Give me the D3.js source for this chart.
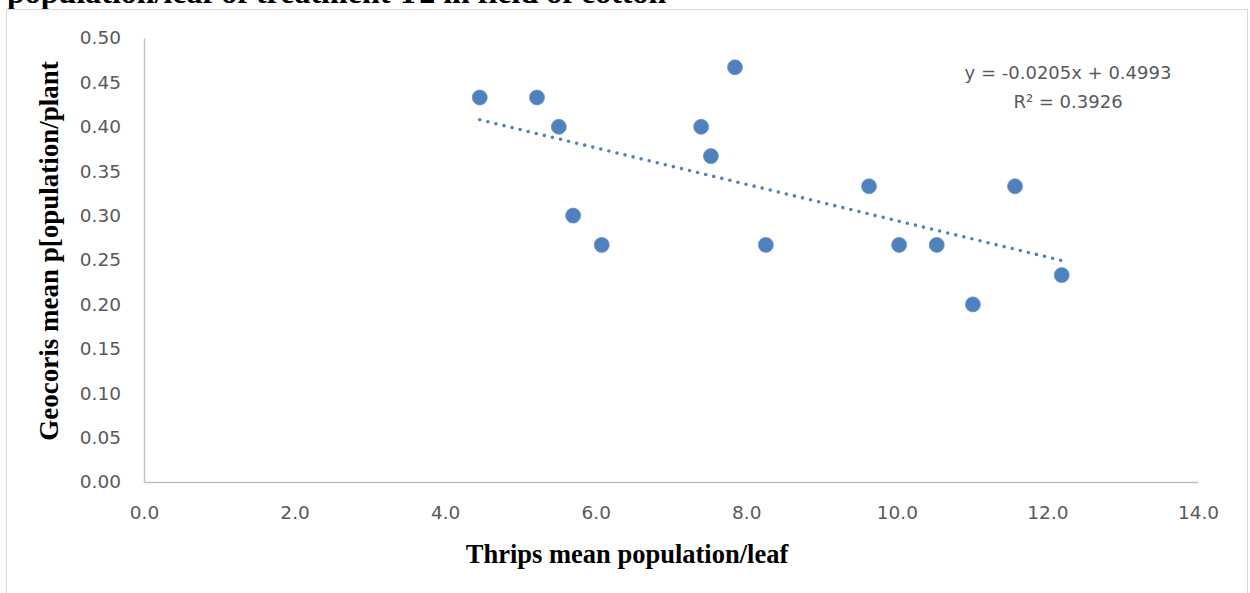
<!DOCTYPE html>
<html>
<head>
<meta charset="utf-8">
<title>Thrips vs Geocoris</title>
<script src="https://cdn.jsdelivr.net/npm/d3@7"></script>
<style type="text/css">
body {
	margin: 0;
	background: #fff;
}
.tick text {
	font-family: "DejaVu Sans", sans-serif;
	font-size: 18.5px;
	fill: #595959;
}
.axis-title {
	font-family: "Liberation Serif", "Times New Roman", serif;
	font-weight: bold;
	fill: #000;
}
</style>
</head>
<body>
<div id="chart"></div>

<script type="text/javascript">
	// Thrips mean population/leaf (x) and Geocoris mean population/plant (y)
	var thrips = [4.46, 5.22, 5.51, 5.70, 6.08, 7.40, 7.53, 7.85, 8.26, 9.63, 10.03, 10.53, 11.01, 11.57, 12.19];
	var geocoris = [0.433, 0.433, 0.400, 0.300, 0.267, 0.400, 0.367, 0.467, 0.267, 0.333, 0.267, 0.267, 0.200, 0.333, 0.233];

	// linear trendline as printed on the chart
	var slope = -0.0205, intercept = 0.4993, rSquared = 0.3926;

	var xTicks = [0, 2, 4, 6, 8, 10, 12, 14];
	var yTicks = [0, 0.05, 0.10, 0.15, 0.20, 0.25, 0.30, 0.35, 0.40, 0.45, 0.50];

	var width = 1250, height = 593;
	var margin = { left: 144, right: 52, top: 38, bottom: 111 };

	var svg = d3.select('#chart').append('svg')
		.attr('width', width)
		.attr('height', height);

	// title is clipped at the top of the picture, as in the source
	svg.append('text')
		.attr('class', 'axis-title')
		.attr('x', 7)
		.attr('y', 3)
		.attr('font-size', 32)
		.text('population/leaf of treatment T2 in field of cotton');

	// chart frame
	svg.append('rect')
		.attr('x', 6.5).attr('y', 9.5)
		.attr('width', 1241).attr('height', 600)
		.attr('fill', 'none')
		.attr('stroke', '#d9d9d9');

	var x = d3.scaleLinear().domain([0, 14]).range([margin.left, width - margin.right]);
	var y = d3.scaleLinear().domain([0, 0.5]).range([height - margin.bottom, margin.top]);

	var xAxis = svg.append('g')
		.attr('transform', 'translate(0,' + y(0) + ')')
		.call(d3.axisBottom(x).tickValues(xTicks).tickFormat(d3.format('.1f'))
			.tickSize(0).tickPadding(24));

	var yAxis = svg.append('g')
		.attr('transform', 'translate(' + x(0) + ',0)')
		.call(d3.axisLeft(y).tickValues(yTicks).tickFormat(d3.format('.2f'))
			.tickSize(0).tickPadding(23));

	[xAxis, yAxis].forEach(function(a) {
		a.select('.domain').attr('stroke', '#bfbfbf').attr('stroke-width', 1.5);
	});

	// trendline over the range of the data
	var xExt = d3.extent(thrips);
	svg.append('line')
		.attr('x1', x(xExt[0])).attr('y1', y(slope * xExt[0] + intercept))
		.attr('x2', x(xExt[1])).attr('y2', y(slope * xExt[1] + intercept))
		.attr('stroke', '#4f81bd')
		.attr('stroke-width', 3.6)
		.attr('stroke-linecap', 'round')
		.attr('stroke-dasharray', '0 8.3');

	// points
	svg.append('g').selectAll('circle')
		.data(thrips)
		.enter().append('circle')
		.attr('cx', function(d) { return x(d); })
		.attr('cy', function(d, i) { return y(geocoris[i]); })
		.attr('r', 7.5)
		.attr('fill', '#4f81bd')
		.attr('stroke', '#6b94c8')
		.attr('stroke-width', 0.8);

	// equation label
	var eq = svg.append('text')
		.attr('text-anchor', 'middle')
		.attr('font-family', '"DejaVu Sans", sans-serif')
		.attr('font-size', 18)
		.attr('fill', '#595959');
	eq.append('tspan').attr('x', 1068).attr('y', 79)
		.text('y = ' + slope.toFixed(4) + 'x + ' + intercept.toFixed(4));
	eq.append('tspan').attr('x', 1068).attr('y', 108)
		.text('R² = ' + rSquared.toFixed(4));

	// axis titles
	svg.append('text')
		.attr('class', 'axis-title')
		.attr('text-anchor', 'middle')
		.attr('x', 627)
		.attr('y', 563)
		.attr('font-size', 26.5)
		.text('Thrips mean population/leaf');

	svg.append('text')
		.attr('class', 'axis-title')
		.attr('text-anchor', 'middle')
		.attr('transform', 'translate(58,251) rotate(-90)')
		.attr('font-size', 27)
		.text('Geocoris mean p[opulation/plant');
</script>
</body>
</html>
